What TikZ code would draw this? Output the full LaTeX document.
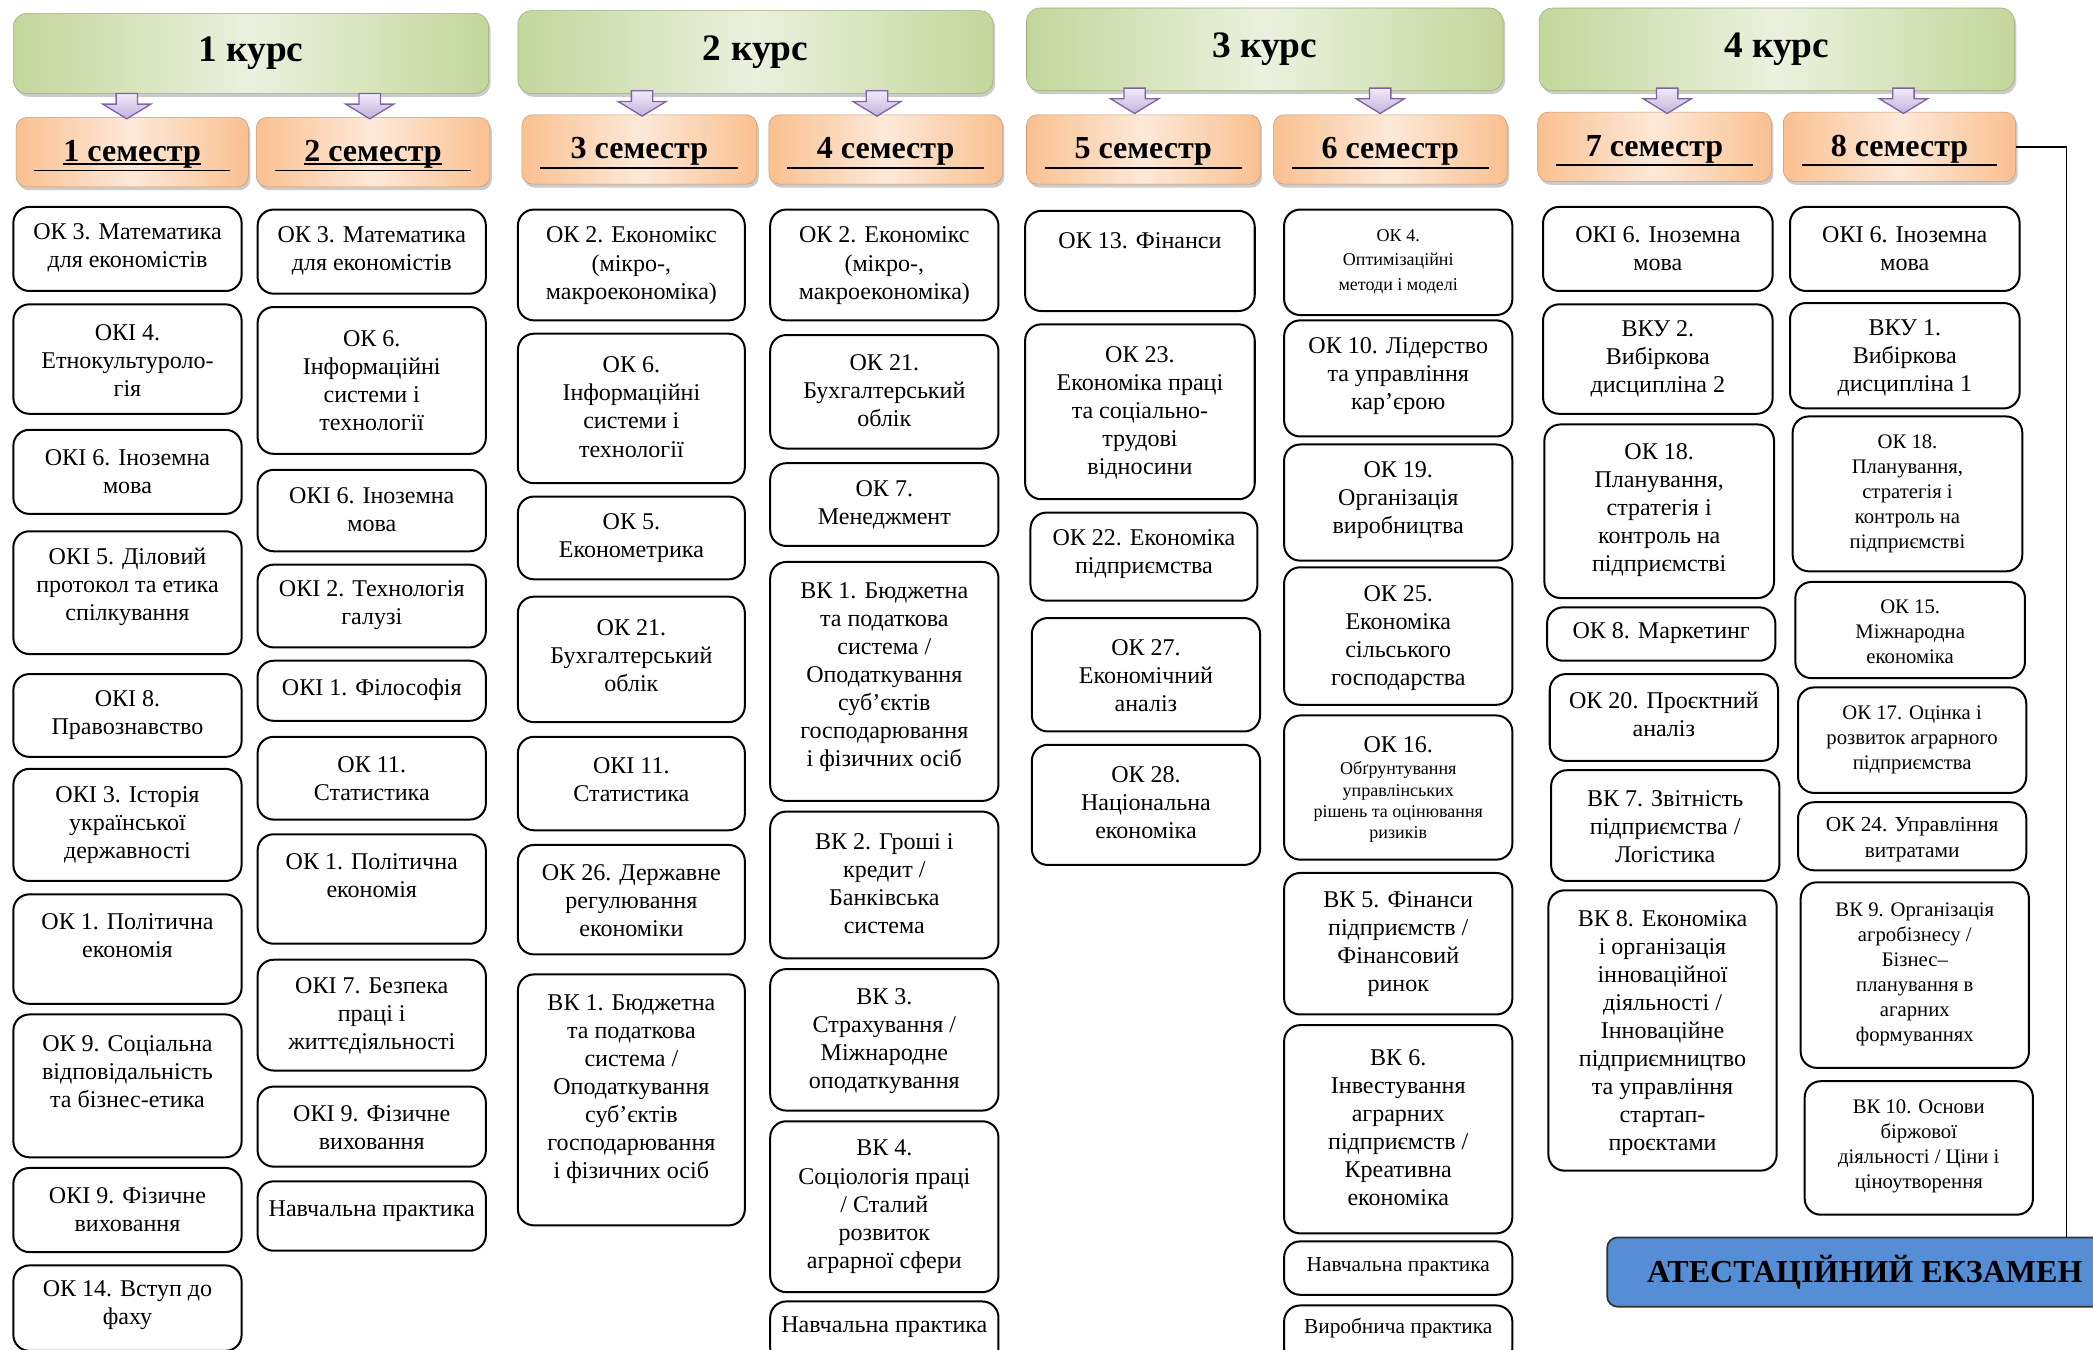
\documentclass[tikz,border=0pt]{standalone}
\usepackage{fontspec}
\setmainfont{Liberation Serif}
\usetikzlibrary{shadows}
\definecolor{grE}{HTML}{C3D69B}
\definecolor{grM}{HTML}{EBF1DE}
\definecolor{orE}{HTML}{FAC090}
\definecolor{orM}{HTML}{FDE9D9}
\definecolor{arT}{HTML}{F1EBF8}
\definecolor{arB}{HTML}{C2B2DC}
\definecolor{arD}{HTML}{8064A2}
\definecolor{exB}{HTML}{558ED5}
\tikzset{
 cbox/.style={draw, line width=1.5pt, rounded corners=12pt, inner sep=0pt, outer sep=0pt},
 ctxt/.style={align=center, inner sep=0pt, font=\fontsize{18}{21}\selectfont},
 sm13/.style={font=\fontsize{13.5}{18.5}\selectfont},
 sm155/.style={font=\fontsize{15.5}{18.7}\selectfont},
 sm16/.style={font=\fontsize{16}{19}\selectfont},
 kurs/.style={rounded corners=10pt, left color=grE, right color=grE, middle color=grM, draw=grE!80!black, line width=0.4pt,
   drop shadow={shadow xshift=1.5pt, shadow yshift=-2.5pt, fill=black!40, opacity=0.5},
   font=\bfseries\fontsize{28}{32}\selectfont, inner sep=0pt},
 sem/.style={rounded corners=8pt, left color=orE, right color=orE, middle color=orM, draw=orE!80!black, line width=0.4pt,
   drop shadow={shadow xshift=1.5pt, shadow yshift=-2.5pt, fill=black!40, opacity=0.5}, inner sep=0pt},
 semtxt/.style={font=\bfseries\fontsize{24}{28}\selectfont, inner sep=0pt},
 semline/.style={line width=1.4pt},
 parr/.style={top color=arT, bottom color=arB, draw=arD, line width=1pt, line join=miter},
 conn/.style={line width=1.1pt},
 exam/.style={draw=black!80, line width=1.3pt, fill=exB, rounded corners=8pt, inner sep=0pt, font=\bfseries\fontsize{24}{28}\selectfont}
}
\newcommand\bx[8]{%
 \node[cbox, minimum width={(#4-#2)*1pt}, minimum height={(#5-#3)*1pt}] (#1) at ({(#2+#4)/2},{(#3+#5)/2}) {};
 \node[ctxt,#7] (#1t) at ({(#2+#4)/2},#6) {#8};}
\newcommand\parrow[2]{%
 \draw[parr] (#1-8,#2) -- (#1+8,#2) -- (#1+8,#2+8) -- (#1+18,#2+8) -- (#1,#2+19) -- (#1-18,#2+8) -- (#1-8,#2+8) -- cycle;}
\begin{document}
\begin{tikzpicture}[x=1pt,y=-1pt]
\useasboundingbox[fill=white] (0,0) rectangle (1568,1011);
% course headers
\foreach \n/\xa/\ya/\xb/\yb in {1/10/10/366/70, 2/388/8/744/70, 3/769/6/1126/68, 4/1153/6/1509/68}{
 \node[kurs, minimum width={(\xb-\xa)*1pt}, minimum height={(\yb-\ya)*1pt}] (k\n) at ({(\xa+\xb)/2},{(\ya+\yb)/2}) {\n\ курс};
}
% semesters
\foreach \n/\xa/\ya/\xb/\yb in {1/12/88/186/140, 2/192/88/367/140, 3/391/86/567/138, 4/576/86/751/138, 5/769/86/944/138, 6/954/86/1129/138, 7/1152/84/1327/136, 8/1336/84/1510/136}{
 \node[sem, minimum width={(\xb-\xa)*1pt}, minimum height={(\yb-\ya)*1pt}] (s\n) at ({(\xa+\xb)/2},{(\ya+\yb)/2}) {};
 \node[semtxt, anchor=base] (s\n t) at ([yshift=-7pt]s\n.center) {\n\ семестр};
 \draw[semline] ([xshift=14pt,yshift=12.5pt]s\n.south west) -- ([xshift=-14pt,yshift=12.5pt]s\n.south east);
}
\draw[line width=1.4pt] ([yshift=-2pt]s1t.base west) -- ([yshift=-2pt]s1t.base east);
\draw[line width=1.4pt] ([yshift=-2pt]s2t.base west) -- ([yshift=-2pt]s2t.base east);
% arrows
\parrow{95}{70}\parrow{277}{70}
\parrow{481}{68}\parrow{657}{68}
\parrow{850}{66}\parrow{1034}{66}
\parrow{1249}{66}\parrow{1426}{66}
% column 1
\bx{c1a}{10}{155}{181}{218}{186}{}{ОК 3. Математика\\для економістів}
\bx{c1b}{10}{228}{181}{310}{270}{}{ОКІ 4.\\Етнокультуроло-\\гія}
\bx{c1c}{10}{322}{181}{385}{353}{}{ОКІ 6. Іноземна\\мова}
\bx{c1d}{10}{398}{181}{490}{440}{}{ОКІ 5. Діловий\\протокол та етика\\спілкування}
\bx{c1e}{10}{505}{181}{567}{536}{}{ОКІ 8.\\Правознавство}
\bx{c1f}{10}{576}{181}{660}{618}{}{ОКІ 3. Історія\\української\\державності}
\bx{c1g}{10}{670}{181}{752}{701}{}{ОК 1. Політична\\економія}
\bx{c1h}{10}{760}{181}{867}{803}{}{ОК 9. Соціальна\\відповідальність\\та бізнес-етика}
\bx{c1i}{10}{875}{181}{938}{906}{}{ОКІ 9. Фізичне\\виховання}
\bx{c1j}{10}{948}{181}{1012}{978}{}{ОК 14. Вступ до\\фаху}
% column 2
\bx{c2a}{193}{157}{364}{220}{188}{}{ОК 3. Математика\\для економістів}
\bx{c2b}{193}{230}{364}{340}{285}{}{ОК 6.\\Інформаційні\\системи і\\технології}
\bx{c2c}{193}{352}{364}{413}{382}{}{ОКІ 6. Іноземна\\мова}
\bx{c2d}{193}{423}{364}{485}{453}{}{ОКІ 2. Технологія\\галузі}
\bx{c2e}{193}{495}{364}{540}{517}{}{ОКІ 1. Філософія}
\bx{c2f}{193}{552}{364}{614}{583}{}{ОК 11.\\Статистика}
\bx{c2g}{193}{625}{364}{707}{656}{}{ОК 1. Політична\\економія}
\bx{c2h}{193}{719}{364}{802}{761}{}{ОКІ 7. Безпека\\праці і\\життєдіяльності}
\bx{c2i}{193}{814}{364}{874}{845}{}{ОКІ 9. Фізичне\\виховання}
\bx{c2j}{193}{885}{364}{937}{907}{}{Навчальна практика}
% column 3
\bx{c3a}{388}{157}{558}{240}{199}{}{ОК 2. Економікс\\(мікро-,\\макроекономіка)}
\bx{c3b}{388}{250}{558}{362}{305}{}{ОК 6.\\Інформаційні\\системи і\\технології}
\bx{c3c}{388}{372}{558}{434}{403}{}{ОК 5.\\Економетрика}
\bx{c3d}{388}{447}{558}{541}{491}{}{ОК 21.\\Бухгалтерський\\облік}
\bx{c3e}{388}{552}{558}{622}{584}{}{ОКІ 11.\\Статистика}
\bx{c3f}{388}{633}{558}{715}{675}{}{ОК 26. Державне\\регулювання\\економіки}
\bx{c3g}{388}{730}{558}{918}{816}{}{ВК 1. Бюджетна\\та податкова\\система /\\Оподаткування\\суб’єктів\\господарювання\\і фізичних осіб}
% column 4
\bx{c4a}{577}{157}{748}{240}{199}{}{ОК 2. Економікс\\(мікро-,\\макроекономіка)}
\bx{c4b}{577}{251}{748}{336}{293}{}{ОК 21.\\Бухгалтерський\\облік}
\bx{c4c}{577}{347}{748}{409}{378}{}{ОК 7.\\Менеджмент}
\bx{c4d}{577}{421}{748}{600}{507}{}{ВК 1. Бюджетна\\та податкова\\система /\\Оподаткування\\суб’єктів\\господарювання\\і фізичних осіб}
\bx{c4e}{577}{608}{748}{718}{662}{}{ВК 2. Гроші і\\кредит /\\Банківська\\система}
\bx{c4f}{577}{726}{748}{832}{780}{}{ВК 3.\\Страхування /\\Міжнародне\\оподаткування}
\bx{c4g}{577}{840}{748}{968}{904}{}{ВК 4.\\Соціологія праці\\/ Сталий\\розвиток\\аграрної сфери}
\bx{c4h}{577}{975}{748}{1022}{994}{}{Навчальна практика}
% column 5
\bx{c5a}{768}{158}{940}{233}{180}{}{ОК 13. Фінанси}
\bx{c5b}{768}{243}{940}{374}{309}{}{ОК 23.\\Економіка праці\\та соціально-\\трудові\\відносини}
\bx{c5c}{772}{384}{942}{450}{415}{}{ОК 22. Економіка\\підприємства}
\bx{c5d}{773}{463}{944}{548}{506}{}{ОК 27.\\Економічний\\аналіз}
\bx{c5e}{773}{558}{944}{648}{601}{}{ОК 28.\\Національна\\економіка}
% column 6
\bx{c6a}{962}{157}{1133}{236}{196}{sm13}{ОК 4.\\Оптимізаційні\\методи і моделі}
\bx{c6b}{962}{240}{1133}{327}{282}{}{ОК 10. Лідерство\\та управління\\кар’єрою}
\bx{c6c}{962}{333}{1133}{420}{375}{}{ОК 19.\\Організація\\виробництва}
\bx{c6d}{962}{425}{1133}{528}{478}{}{ОК 25.\\Економіка\\сільського\\господарства}
\bx{c6e}{962}{536}{1133}{644}{558}{}{ОК 16.}
\node[ctxt, font=\fontsize{13.5}{16}\selectfont] (c6eu) at (1047.5,601) {Обґрунтування\\управлінських\\рішень та оцінювання\\ризиків};
\bx{c6f}{962}{654}{1133}{760}{707}{}{ВК 5. Фінанси\\підприємств /\\Фінансовий\\ринок}
\bx{c6g}{962}{768}{1133}{924}{845}{}{ВК 6.\\Інвестування\\аграрних\\підприємств /\\Креативна\\економіка}
\bx{c6h}{962}{930}{1133}{970}{949}{sm16}{Навчальна практика}
\bx{c6i}{962}{978}{1133}{1022}{995}{sm16}{Виробнича практика}
% column 7
\bx{c7a}{1156}{155}{1328}{218}{186}{}{ОКІ 6. Іноземна\\мова}
\bx{c7b}{1156}{228}{1328}{310}{269}{}{ВКУ 2.\\Вибіркова\\дисципліна 2}
\bx{c7c}{1157}{318}{1329}{448}{382}{}{ОК 18.\\Планування,\\стратегія і\\контроль на\\підприємстві}
\bx{c7d}{1159}{455}{1330}{495}{474}{}{ОК 8. Маркетинг}
\bx{c7e}{1161}{505}{1332}{570}{535}{}{ОК 20. Проєктний\\аналіз}
\bx{c7f}{1162}{577}{1333}{660}{619}{}{ВК 7. Звітність\\підприємства /\\Логістика}
\bx{c7g}{1160}{667}{1331}{877}{774}{}{ВК 8. Економіка\\і організація\\інноваційної\\діяльності /\\Інноваційне\\підприємництво\\та управління\\стартап-\\проєктами}
% column 8
\bx{c8a}{1341}{155}{1513}{218}{186}{}{ОКІ 6. Іноземна\\мова}
\bx{c8b}{1341}{227}{1513}{306}{268}{}{ВКУ 1.\\Вибіркова\\дисципліна 1}
\bx{c8c}{1343}{312}{1515}{428}{370}{sm155}{ОК 18.\\Планування,\\стратегія і\\контроль на\\підприємстві}
\bx{c8d}{1345}{436}{1517}{508}{473}{sm155}{ОК 15.\\Міжнародна\\економіка}
\bx{c8e}{1347}{515}{1518}{594}{554}{sm155}{ОК 17. Оцінка і\\розвиток аграрного\\підприємства}
\bx{c8f}{1347}{601}{1518}{652}{629}{sm16}{ОК 24. Управління\\витратами}
\bx{c8g}{1349}{661}{1520}{800}{730}{sm155}{ВК 9. Організація\\агробізнесу /\\Бізнес–\\планування в\\агарних\\формуваннях}
\bx{c8h}{1352}{810}{1523}{910}{859}{sm155}{ВК 10. Основи\\біржової\\діяльності / Ціни і\\ціноутворення}
% exam
\node[exam, minimum width=386pt, minimum height=52pt] (exam) at (1397,953) {АТЕСТАЦІЙНИЙ ЕКЗАМЕН};
\coordinate (exTop) at (1548,0);
\draw[conn] (s8.east) -| (exTop |- exam.north);
\end{tikzpicture}
\end{document}
